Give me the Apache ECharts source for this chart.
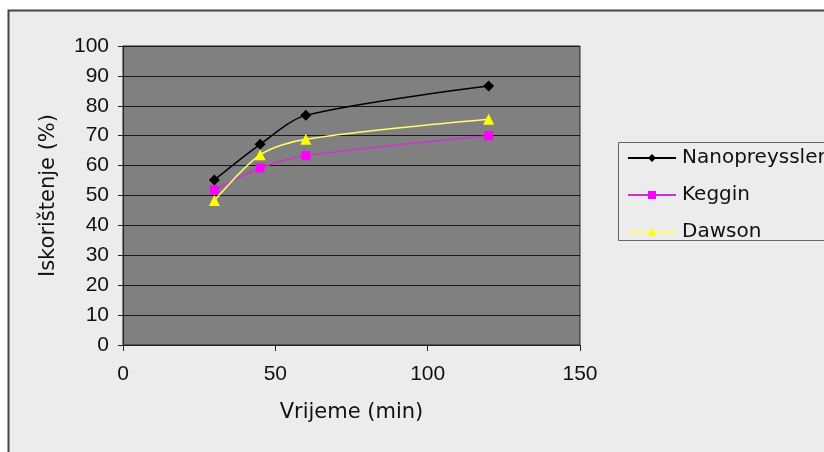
<!DOCTYPE html>
<html><head><meta charset="utf-8">
<script src="https://cdn.jsdelivr.net/npm/echarts@6/dist/echarts.min.js"></script>
<style>html,body{margin:0;padding:0;background:#fff}#c{width:824px;height:452px}</style>
</head><body><div id="c"></div>
<script>
const timesMin = [30, 45, 60, 120];
const nanopreyssler = [55.2, 67.1, 76.8, 86.6];
const keggin = [51.8, 59.2, 63.3, 70.0];
const dawson = [48.3, 63.6, 68.8, 75.5];
const seriesNames = ['Nanopreyssler', 'Keggin', 'Dawson'];
const xTicks = [0, 50, 100, 150];

const pair = (ys) => timesMin.map((t, i) => [t, ys[i]]);
const chart = echarts.init(document.getElementById('c'));
chart.setOption({
  animation: false,
  backgroundColor: '#ffffff',
  graphic: [
    { type: 'rect', z: -10, shape: { x: 8.5, y: 10.5, width: 830, height: 460 },
      style: { fill: '#ececec', stroke: '#444', lineWidth: 2 } },
    { type: 'rect', z: -5, shape: { x: 618.5, y: 142.5, width: 220, height: 98 },
      style: { fill: '#ececec', stroke: '#666', lineWidth: 1 } }
  ],
  grid: { left: 123, right: 244, top: 46, bottom: 107, show: true,
    backgroundColor: '#808080', borderColor: '#222', borderWidth: 1 },
  legend: {
    left: 626, top: 146, orient: 'vertical', itemWidth: 48, itemHeight: 10, itemGap: 17,
    padding: [2, 5, 2, 1],
    textStyle: { fontFamily: 'DejaVu Sans', fontSize: 20, color: '#111', padding: [0, 0, 0, 1] },
    data: seriesNames
  },
  xAxis: {
    type: 'value', min: 0, max: 150, interval: 50,
    name: 'Vrijeme (min)', nameLocation: 'middle', nameGap: 57,
    nameTextStyle: { fontFamily: 'DejaVu Sans', fontSize: 21, color: '#111' },
    axisLine: { show: true, lineStyle: { color: '#222' } },
    axisTick: { show: true, length: 6, lineStyle: { color: '#222' } },
    axisLabel: { fontFamily: 'Liberation Sans', fontSize: 21, color: '#111', margin: 19,
      formatter: (v) => xTicks.includes(v) ? String(v) : '' },
    splitLine: { show: false }
  },
  yAxis: {
    type: 'value', min: 0, max: 100, interval: 10,
    name: 'Iskorištenje (%)', nameLocation: 'middle', nameGap: 64,
    nameTextStyle: { fontFamily: 'DejaVu Sans', fontSize: 21, color: '#111' },
    axisLine: { show: true, lineStyle: { color: '#222' } },
    axisTick: { show: true, length: 5, lineStyle: { color: '#222' } },
    axisLabel: { fontFamily: 'Liberation Sans', fontSize: 21, color: '#111', margin: 14 },
    splitLine: { show: true, lineStyle: { color: '#1a1a1a', width: 1 } }
  },
  series: [
    { name: seriesNames[0], type: 'line', data: pair(nanopreyssler), smooth: 0.3,
      symbol: 'diamond', symbolSize: 11, itemStyle: { color: '#000' },
      lineStyle: { color: '#000', width: 1.5 } },
    { name: seriesNames[1], type: 'line', data: pair(keggin), smooth: 0.3,
      symbol: 'rect', symbolSize: 9, itemStyle: { color: '#ff00ff' },
      lineStyle: { color: '#cc33cc', width: 1.5 } },
    { name: seriesNames[2], type: 'line', data: pair(dawson), smooth: 0.3,
      symbol: 'triangle', symbolSize: 11, itemStyle: { color: '#ffff00' },
      lineStyle: { color: '#ffff66', width: 1.5 } }
  ]
});
</script></body></html>
